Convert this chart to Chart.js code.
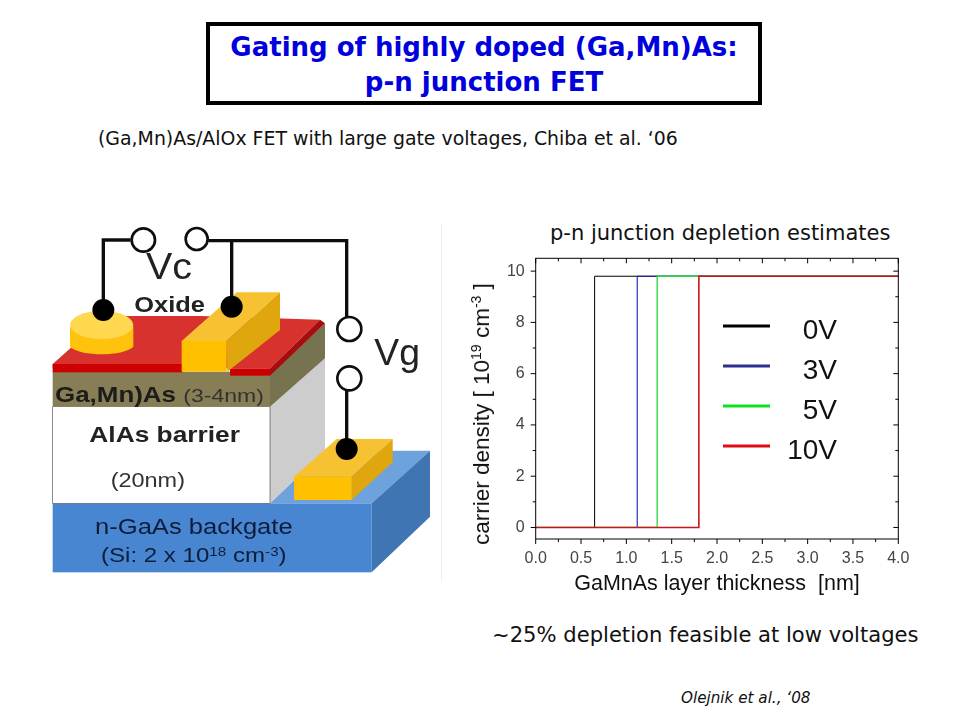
<!DOCTYPE html>
<html>
<head>
<meta charset="utf-8">
<title>Gating of highly doped (Ga,Mn)As</title>
<script src="https://cdn.jsdelivr.net/npm/chart.js@4"></script>
<style>
  html, body { margin: 0; background: #fff; }
  #slide { position: relative; width: 960px; height: 720px; overflow: hidden; font-family: "DejaVu Sans", sans-serif; color: #111; }
  .txt { position: absolute; white-space: nowrap; }
  #titleBox { position: absolute; left: 206px; top: 22px; width: 548px; height: 71px; padding-top: 4px; border: 4px solid #000; text-align: center;
    color: #0000dd; font-weight: 700; font-size: 26px; line-height: 35px; }
  #titleBox div { white-space: nowrap; }
  #chartWrap { position: absolute; left: 460px; top: 250px; width: 450px; height: 350px; }
  #yTitle { position: absolute; left: 482px; top: 414px; font-family: "Liberation Sans", sans-serif; font-size: 22.5px; color: #111;
    transform: translate(-50%, -50%) rotate(-90deg); white-space: nowrap; }
  #yTitle sup { font-size: 14px; line-height: 0; }
  #schematic { position: absolute; left: 40px; top: 215px; }
</style>
</head>
<body>
<div id="slide">
  <div id="titleBox"><div>Gating of highly doped (Ga,Mn)As:</div><div>p-n junction FET</div></div>
  <div class="txt" style="left:98px;top:127px;font-size:18.9px">(Ga,Mn)As/AlOx FET with large gate voltages, Chiba et al. ‘06</div>
  <div class="txt" style="left:550px;top:221px;font-size:21px">p-n junction depletion estimates</div>
  <div class="txt" style="left:492px;top:622px;font-size:21.1px">~25% depletion feasible at low voltages</div>
  <div class="txt" style="left:681px;top:689px;font-size:15.2px;font-style:italic">Olejnik et al., ‘08</div>

  <svg id="schematic" width="410" height="370" viewBox="0 0 1230 1110" font-family="Liberation Sans, sans-serif">
    <defs><filter id="soft"><feGaussianBlur stdDeviation="1.6"/></filter></defs>
    <g filter="url(#soft)">
      <path d="M1205 25V1100" stroke="#eeeeee" stroke-width="3"/>
      <!-- backgate -->
      <polygon points="690,865 855,707 1170,707 995,865" fill="#6ea2dc"/>
      <rect x="38" y="865" width="957" height="207" fill="#4a86d2"/>
      <polygon points="995,865 1170,707 1170,905 995,1072" fill="#3f74b4"/>
      <!-- barrier -->
      <polygon points="690,575 855,430 855,707 690,865" fill="#cdcdcd"/>
      <rect x="38" y="575" width="652" height="290" fill="#fff" stroke="#555" stroke-width="2"/>
      <!-- GaMnAs -->
      <polygon points="690,575 690,478 855,325 855,430" fill="#77724f"/>
      <rect x="38" y="470" width="652" height="105" fill="#877e55"/>
      <!-- oxide -->
      <polygon points="38,447 200,303 480,303 840,314 690,460 38,460" fill="#d8302f"/>
      <rect x="38" y="447" width="390" height="25" fill="#cc0000"/>
      <rect x="570" y="460" width="120" height="22" fill="#cc0000"/>
      <polygon points="690,460 840,314 855,325 690,482" fill="#a80808"/>
      <!-- disc contact -->
      <path d="M90 335V395C120 425 250 425 280 395V335Z" fill="#ffc20e"/>
      <ellipse cx="185" cy="330" rx="95" ry="42" fill="#ffd850"/>
      <!-- gate bar -->
      <polygon points="425,378 590,232 720,232 560,378" fill="#f7c232"/>
      <polygon points="560,378 720,232 720,345 562,470" fill="#dfa60f"/>
      <rect x="425" y="378" width="135" height="92" fill="#ffc000"/>
      <!-- back contact -->
      <polygon points="762,785 890,672 1058,672 935,785" fill="#f7c232"/>
      <polygon points="935,785 1058,672 1058,742 935,855" fill="#dfa60f"/>
      <rect x="762" y="785" width="173" height="70" fill="#ffc000"/>
      <!-- wires -->
      <path d="M190 285V75H272M505 77H920V310M575 75V275M920 525V700" fill="none" stroke="#111" stroke-width="10"/>
      <circle cx="310" cy="75" r="35" fill="#fff" stroke="#111" stroke-width="8"/>
      <circle cx="470" cy="72" r="33" fill="#fff" stroke="#111" stroke-width="8"/>
      <circle cx="928" cy="342" r="36" fill="#fff" stroke="#111" stroke-width="8"/>
      <circle cx="928" cy="490" r="36" fill="#fff" stroke="#111" stroke-width="8"/>
      <circle cx="190" cy="285" r="33" fill="#000"/>
      <circle cx="575" cy="275" r="33" fill="#000"/>
      <circle cx="920" cy="702" r="33" fill="#000"/>
      <!-- labels -->
      <text x="318" y="192" font-size="112" fill="#222" textLength="138" lengthAdjust="spacingAndGlyphs">Vc</text>
      <text x="1003" y="450" font-size="112" fill="#222" textLength="137" lengthAdjust="spacingAndGlyphs">Vg</text>
      <text x="283" y="290" font-size="66" font-weight="700" fill="#222" textLength="212" lengthAdjust="spacingAndGlyphs">Oxide</text>
      <text x="45" y="560" font-size="66" font-weight="700" fill="#1a1a1a" textLength="363" lengthAdjust="spacingAndGlyphs">Ga,Mn)As</text>
      <text x="430" y="560" font-size="56" fill="#333" textLength="242" lengthAdjust="spacingAndGlyphs">(3-4nm)</text>
      <text x="148" y="682" font-size="66" font-weight="700" fill="#222" textLength="452" lengthAdjust="spacingAndGlyphs">AlAs barrier</text>
      <text x="212" y="816" font-size="60" fill="#333" textLength="223" lengthAdjust="spacingAndGlyphs">(20nm)</text>
      <text x="165" y="958" font-size="66" fill="#0f1e3a" textLength="593" lengthAdjust="spacingAndGlyphs">n-GaAs backgate</text>
      <text x="183" y="1042" font-size="60" fill="#0f1e3a" textLength="557" lengthAdjust="spacingAndGlyphs">(Si: 2 x 10<tspan dy="-20" font-size="38">18</tspan><tspan dy="20"> cm</tspan><tspan dy="-20" font-size="38">-3</tspan><tspan dy="20">)</tspan></text>
    </g>
  </svg>

  <div id="chartWrap"><canvas id="depletionChart"></canvas></div>
  <div id="yTitle">carrier density [ 10<sup>19</sup> cm<sup>-3</sup> ]</div>
</div>

<script>
// depletion profiles, one step per gate voltage
const voltages = ["0V", "3V", "5V", "10V"];
const lineColors = ["#000000", "#1a1ab0", "#22d83a", "#cc1414"];
const lineWidths = [1, 1.1, 1.3, 1.6]; // later lines a bit wider so they fully cover the earlier ones
const legendColors = ["#000000", "#2a2f90", "#10e020", "#e00a14"];
const thickness0V = [0, 0.65, 0.65, 4];
const thickness3V = [0, 1.12, 1.12, 4];
const thickness5V = [0, 1.34, 1.34, 4];
const thickness10V = [0, 1.8, 1.8, 4];
const density = [0, 0, 9.8, 9.8];

const xTicks = [0, 0.5, 1, 1.5, 2, 2.5, 3, 3.5, 4];
const xMinorTicks = [0.25, 0.75, 1.25, 1.75, 2.25, 2.75, 3.25, 3.75];
const yTicks = [0, 2, 4, 6, 8, 10];
const yMinorTicks = [1, 3, 5, 7, 9];

function toPoints(xs) {
    return xs.map((x, i) => ({ x: x, y: density[i] }));
}

// frame, inward top/right ticks, outward bottom/left ticks
const frameTicks = {
    id: "frameTicks",
    afterDatasetsDraw(chart) {
        const { ctx, chartArea: a, scales } = chart;
        ctx.save();
        ctx.strokeStyle = "#000";
        ctx.lineWidth = 1;
        ctx.strokeRect(a.left, a.top, a.right - a.left, a.bottom - a.top);
        ctx.beginPath();
        const xTick = (v, len) => {
            const p = scales.x.getPixelForValue(v);
            ctx.moveTo(p, a.bottom); ctx.lineTo(p, a.bottom + len);
            ctx.moveTo(p, a.top); ctx.lineTo(p, a.top + len);
        };
        const yTick = (v, len) => {
            const p = scales.y.getPixelForValue(v);
            ctx.moveTo(a.left, p); ctx.lineTo(a.left - len, p);
            ctx.moveTo(a.right, p); ctx.lineTo(a.right - len, p);
        };
        xTicks.forEach(v => xTick(v, 5));
        xMinorTicks.forEach(v => xTick(v, 3));
        yTicks.forEach(v => yTick(v, 5));
        yMinorTicks.forEach(v => yTick(v, 3));
        ctx.stroke();
        ctx.restore();
    }
};

// legend sits inside the plot, labels right aligned
const insideLegend = {
    id: "insideLegend",
    afterDatasetsDraw(chart) {
        const ctx = chart.ctx;
        ctx.save();
        ctx.font = '28px "Liberation Sans", sans-serif';
        ctx.textAlign = "right";
        ctx.textBaseline = "alphabetic";
        voltages.forEach((v, i) => {
            const y = 76 + i * 40;
            ctx.strokeStyle = legendColors[i];
            ctx.lineWidth = 3;
            ctx.beginPath();
            ctx.moveTo(263, y);
            ctx.lineTo(310, y);
            ctx.stroke();
            ctx.fillStyle = "#111";
            ctx.fillText(v, 377, y + 13);
        });
        ctx.restore();
    }
};

const allThickness = [thickness0V, thickness3V, thickness5V, thickness10V];

new Chart(document.getElementById("depletionChart"), {
    type: "line",
    data: {
        datasets: voltages.map((v, i) => ({
            label: v,
            data: toPoints(allThickness[i]),
            borderColor: lineColors[i],
            borderWidth: lineWidths[i],
            pointRadius: 0,
            tension: 0,
            order: voltages.length - i, // 10V ends up on top
        })),
    },
    options: {
        responsive: true,
        maintainAspectRatio: false,
        animation: false,
        layout: { padding: { top: 8.3, right: 11.7, left: 0, bottom: 0 } },
        plugins: { legend: { display: false }, tooltip: { enabled: false } },
        scales: {
            x: {
                type: "linear",
                min: 0,
                max: 4,
                grid: { display: false },
                border: { display: false },
                afterFit(scale) {
                    scale.height = 61;
                    scale.paddingLeft = 0;
                    scale.paddingRight = 0;
                },
                afterBuildTicks(scale) { scale.ticks = xTicks.map(v => ({ value: v })); },
                ticks: {
                    autoSkip: false,
                    maxRotation: 0,
                    padding: 2,
                    color: "#444",
                    font: { family: '"Liberation Sans", sans-serif', size: 16 },
                    callback: v => v.toFixed(1),
                },
                title: {
                    display: true,
                    text: "GaMnAs layer thickness  [nm]",
                    color: "#111",
                    padding: { top: 0, bottom: 3 },
                    font: { family: '"Liberation Sans", sans-serif', size: 21.5 },
                },
            },
            y: {
                min: -0.45,
                max: 10.5,
                grid: { display: false },
                border: { display: false },
                afterFit(scale) {
                    scale.width = 75.7;
                    scale.paddingTop = 0;
                    scale.paddingBottom = 0;
                },
                afterBuildTicks(scale) { scale.ticks = yTicks.map(v => ({ value: v })); },
                ticks: {
                    autoSkip: false,
                    padding: 3,
                    color: "#444",
                    font: { family: '"Liberation Sans", sans-serif', size: 16 },
                },
            },
        },
    },
    plugins: [frameTicks, insideLegend],
});
</script>
</body>
</html>
